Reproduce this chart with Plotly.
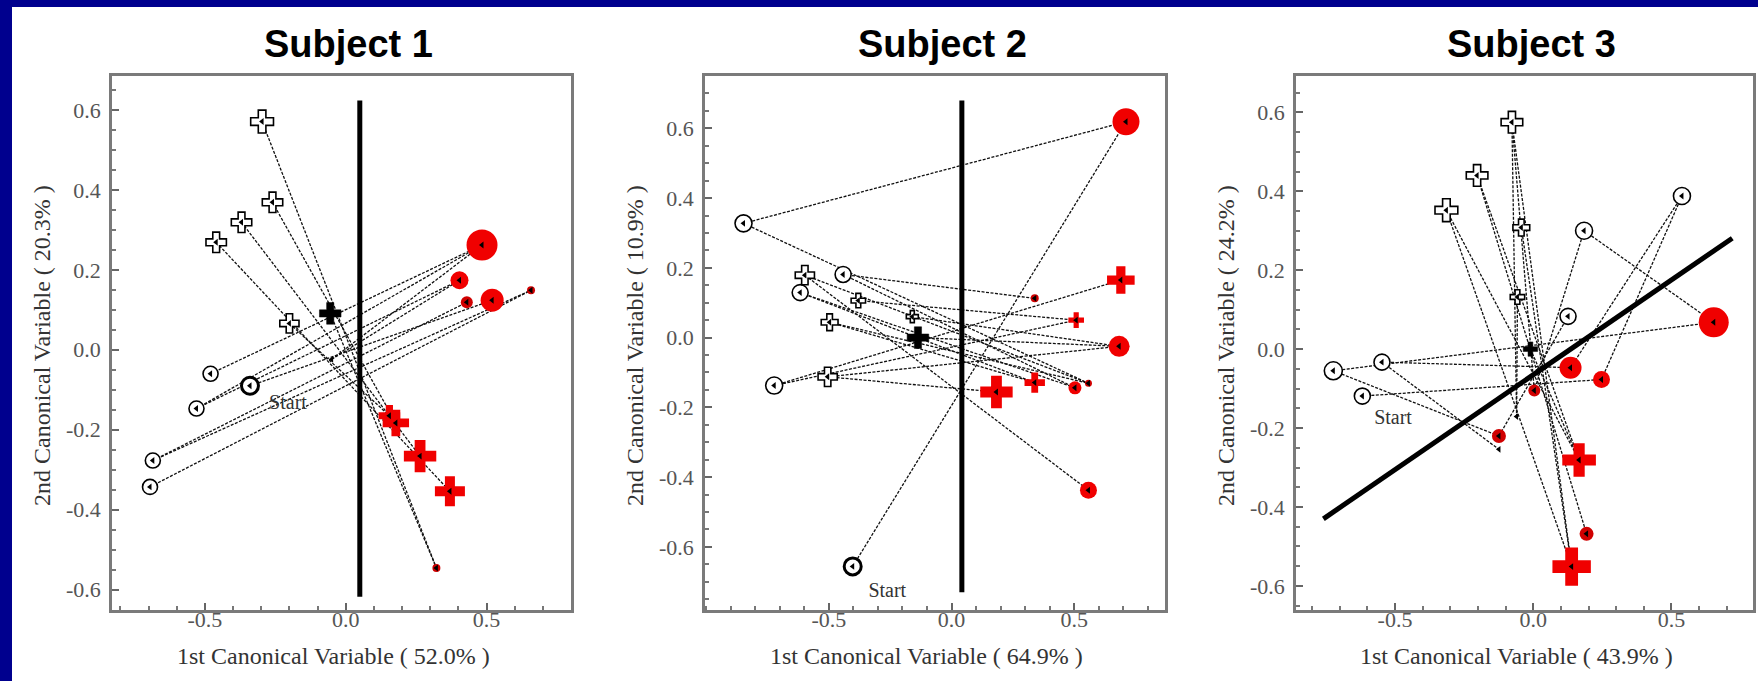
import plotly.graph_objects as go

W, H = 1758, 681

# ---------------- data ----------------
titles = ["Subject 1", "Subject 2", "Subject 3"]
x_titles = ["1st Canonical Variable ( 52.0% )", "1st Canonical Variable ( 64.9% )", "1st Canonical Variable ( 43.9% )"]
y_titles = ["2nd Canonical Variable ( 20.3% )", "2nd Canonical Variable ( 10.9% )", "2nd Canonical Variable ( 24.2% )"]
x_tickvals = [-0.5, 0.0, 0.5]
x_ticktext = ["-0.5", "0.0", "0.5"]
y_tickvals = [-0.6, -0.4, -0.2, 0.0, 0.2, 0.4, 0.6]
y_ticktext = ["-0.6", "-0.4", "-0.2", "0.0", "0.2", "0.4", "0.6"]

# Subject 1 points: position, kind, size
s1_x = [-0.34, 0.52, -0.297, 0.322, -0.48, 0.484, -0.26, 0.178, -0.53, 0.404, -0.37,
        0.264, -0.685, 0.43, -0.46, 0.37, -0.695, 0.658, -0.2, 0.155, -0.055, -0.05]
s1_y = [-0.09, 0.124, 0.571, -0.546, -0.06, 0.262, 0.369, -0.183, -0.147, 0.174, 0.319,
        -0.266, -0.277, 0.119, 0.269, -0.354, -0.343, 0.149, 0.066, -0.165, 0.091, -0.024]
s1_kind = ["start", "rc", "ox", "rs", "oc", "rc", "ox", "rx", "oc", "rc", "ox",
           "rx", "oc", "rs", "ox", "rx", "oc", "rs", "ox", "rx", "fx", "tip"]
s1_size = [17, 23, 19, 8, 15, 31, 17, 22, 15, 18, 17, 27, 15, 12, 17, 25, 15, 8, 16, 18, 18, 6]
s1_from = [0, 2, 4, 6, 8, 10, 12, 14, 16, 18, 20, 21, 12, 21, 8]
s1_to = [1, 3, 5, 7, 9, 11, 13, 15, 17, 19, 3, 5, 17, 9, 5]
s1_line_x = [0.05, 0.05]
s1_line_y = [0.624, -0.618]
s1_start = (-0.205, -0.136)

# Subject 2
s2_x = [-0.403, 0.711, -0.848, -0.442, -0.598, -0.617, -0.38, -0.497, -0.16, -0.137, -0.723,
        -0.505, 0.69, 0.339, 0.508, 0.683, 0.183, 0.339, 0.503, 0.558, 0.558]
s2_y = [-0.656, 0.619, 0.3275, 0.181, 0.179, 0.129, 0.106, 0.044, 0.06, 0.0, -0.1375,
        -0.1125, 0.165, 0.1125, 0.05, -0.025, -0.156, -0.129, -0.144, -0.131, -0.4375]
s2_kind = ["start", "rc", "oc", "oc", "ox", "oc", "ox", "ox", "ox", "fx", "oc",
           "ox", "rx", "rs", "rx", "rc", "rx", "rx", "rc", "rs", "rc"]
s2_size = [17, 27, 17, 16, 16, 16, 12, 14, 10, 18, 17, 16, 23, 8, 13, 21, 27, 17, 13, 7, 17]
s2_from = [0, 2, 2, 3, 4, 5, 6, 7, 8, 10, 11, 10, 9, 11, 4, 5, 3, 7]
s2_to = [1, 1, 19, 13, 19, 18, 14, 17, 15, 12, 16, 14, 15, 15, 20, 17, 18, 19]
s2_line_x = [0.042, 0.042]
s2_line_y = [0.68, -0.73]
s2_start = (-0.262, -0.73)

# Subject 3
s3_x = [-0.618, -0.077, -0.203, -0.314, -0.043, -0.057, 0.538, 0.184, 0.126, -0.547, -0.723,
        -0.01, 0.653, 0.135, 0.247, 0.004, -0.124, 0.166, 0.193, 0.139, -0.06, -0.124]
s3_y = [-0.119, 0.575, 0.44, 0.352, 0.308, 0.132, 0.388, 0.30, 0.083, -0.033, -0.055,
        0.0, 0.068, -0.047, -0.077, -0.105, -0.22, -0.281, -0.468, -0.551, -0.171, -0.254]
s3_kind = ["oc", "ox", "ox", "ox", "ox", "ox", "oc", "oc", "oc", "oc", "oc",
           "fx", "rc", "rc", "rc", "rs", "rs", "rx", "rs", "rx", "tip", "tip"]
s3_size = [16, 18, 18, 19, 14, 12, 17, 17, 16, 16, 18, 12, 30, 22, 17, 12, 14, 28, 14, 32, 7, 7]
s3_from = [0, 10, 10, 9, 9, 1, 1, 2, 3, 3, 4, 5, 6, 6, 7, 7, 8, 11, 2, 1]
s3_to = [14, 12, 16, 21, 13, 20, 19, 18, 17, 19, 19, 20, 14, 13, 12, 15, 16, 17, 17, 15]
s3_line_x = [-0.759, 0.72]
s3_line_y = [-0.43, 0.281]
s3_start = (-0.507, -0.178)

subjects = [
    (s1_x, s1_y, s1_kind, s1_size, s1_from, s1_to, s1_line_x, s1_line_y, s1_start),
    (s2_x, s2_y, s2_kind, s2_size, s2_from, s2_to, s2_line_x, s2_line_y, s2_start),
    (s3_x, s3_y, s3_kind, s3_size, s3_from, s3_to, s3_line_x, s3_line_y, s3_start),
]

# ---------------- layout geometry (pixels) ----------------
frames = [(112, 571), (705, 1165), (1296, 1753)]
frame_top, frame_bot = 76, 610
x_ranges = [[-0.83, 0.80], [-1.005, 0.87], [-0.858, 0.795]]
y_ranges = [[-0.651, 0.685], [-0.781, 0.75], [-0.661, 0.692]]

def px(xp):
    return xp / W

def py(yp):
    return 1 - yp / H

fig = go.Figure()

serif = "Liberation Serif, Times New Roman, serif"
sans = "Liberation Sans, Arial, sans-serif"

for i, (xs, ys, kinds, sizes, fr, to, lx, ly, st) in enumerate(subjects):
    xa = "x" if i == 0 else f"x{i+1}"
    ya = "y" if i == 0 else f"y{i+1}"
    # connecting segments
    seg_x, seg_y = [], []
    for a, b in zip(fr, to):
        seg_x += [xs[a], xs[b], None]
        seg_y += [ys[a], ys[b], None]
    fig.add_trace(go.Scatter(x=seg_x, y=seg_y, mode="lines", xaxis=xa, yaxis=ya,
                             line=dict(color="#111111", width=1.3, dash="3px,1.5px"),
                             showlegend=False, hoverinfo="skip"))
    # boundary line
    fig.add_trace(go.Scatter(x=lx, y=ly, mode="lines", xaxis=xa, yaxis=ya,
                             line=dict(color="black", width=5), showlegend=False,
                             hoverinfo="skip"))

    def sel(k):
        return [j for j, kk in enumerate(kinds) if kk in k]

    styles = {
        ("oc",): dict(symbol="circle", color="white", lc="black", lw=1.6),
        ("start",): dict(symbol="circle", color="white", lc="black", lw=3),
        ("ox",): dict(symbol="cross", color="white", lc="black", lw=1.6),
        ("fx",): dict(symbol="cross", color="black", lc="black", lw=0.5),
        ("rc",): dict(symbol="circle", color="#f00000", lc="#f00000", lw=0),
        ("rs",): dict(symbol="circle", color="#d00000", lc="#d00000", lw=0),
        ("rx",): dict(symbol="cross", color="#f00000", lc="#f00000", lw=0),
    }
    for k, s in styles.items():
        idx = sel(k)
        if not idx:
            continue
        fig.add_trace(go.Scatter(
            x=[xs[j] for j in idx], y=[ys[j] for j in idx], mode="markers",
            xaxis=xa, yaxis=ya, showlegend=False, hoverinfo="skip",
            marker=dict(symbol=s["symbol"], size=[sizes[j] for j in idx], color=s["color"],
                        opacity=1, line=dict(color=s["lc"], width=s["lw"]))))
    # small black tips at segment ends
    ends = sorted(set(fr) | set(to))
    fig.add_trace(go.Scatter(
        x=[xs[j] for j in ends], y=[ys[j] for j in ends], mode="markers",
        xaxis=xa, yaxis=ya, showlegend=False, hoverinfo="skip",
        marker=dict(symbol="triangle-left", size=6, color="black", opacity=1)))
    # Start label
    fig.add_trace(go.Scatter(x=[st[0]], y=[st[1]], mode="text", text=["Start"],
                             xaxis=xa, yaxis=ya, showlegend=False, hoverinfo="skip",
                             textfont=dict(family=serif, size=20, color="#333")))

# axes
axis_common = dict(showgrid=False, zeroline=False, showline=True, mirror=True,
                   linecolor="#7a7a7a", linewidth=2.5, ticks="inside", ticklen=7,
                   tickcolor="#666", tickwidth=1.5,
                   tickfont=dict(family=serif, size=22, color="#555"))
layout_axes = {}
for i in range(3):
    l, r = frames[i]
    xn = "xaxis" if i == 0 else f"xaxis{i+1}"
    yn = "yaxis" if i == 0 else f"yaxis{i+1}"
    anchor_x = "y" if i == 0 else f"y{i+1}"
    anchor_y = "x" if i == 0 else f"x{i+1}"
    layout_axes[xn] = dict(axis_common, domain=[px(l), px(r)], range=x_ranges[i],
                           tickvals=x_tickvals, ticktext=x_ticktext, anchor=anchor_x,
                           minor=dict(dtick=0.1, ticks="inside", ticklen=4, tickcolor="#777"),
                           ticklabelstandoff=-12)
    layout_axes[yn] = dict(axis_common, domain=[py(frame_bot), py(frame_top)], range=y_ranges[i],
                           tickvals=y_tickvals, ticktext=y_ticktext, anchor=anchor_y,
                           minor=dict(dtick=0.05, ticks="inside", ticklen=4, tickcolor="#777"),
                           ticklabelstandoff=4)

annotations = []
for i in range(3):
    l, r = frames[i]
    cx = (l + r) / 2
    annotations.append(dict(text=f"<b>{titles[i]}</b>", x=px(cx + 7), y=py(44), xref="paper", yref="paper",
                            showarrow=False, xanchor="center", yanchor="middle",
                            font=dict(family=sans, size=38, color="black")))
    annotations.append(dict(text=x_titles[i], x=px(cx - 8), y=py(656), xref="paper", yref="paper",
                            showarrow=False, xanchor="center", yanchor="middle",
                            font=dict(family=serif, size=24, color="#333")))
    annotations.append(dict(text=y_titles[i], x=px(l - 70), y=py((frame_top + frame_bot) / 2 + 3),
                            xref="paper", yref="paper", textangle=-90,
                            showarrow=False, xanchor="center", yanchor="middle",
                            font=dict(family=serif, size=24, color="#333")))

fig.update_layout(
    width=W, height=H, margin=dict(l=0, r=0, t=0, b=0),
    paper_bgcolor="#00008e", plot_bgcolor="white",
    shapes=[dict(type="rect", xref="paper", yref="paper", x0=px(12), x1=1, y0=0, y1=py(7),
                 fillcolor="white", line=dict(width=0), layer="below")],
    annotations=annotations,
    **layout_axes,
)

fig.write_html("out.html")
